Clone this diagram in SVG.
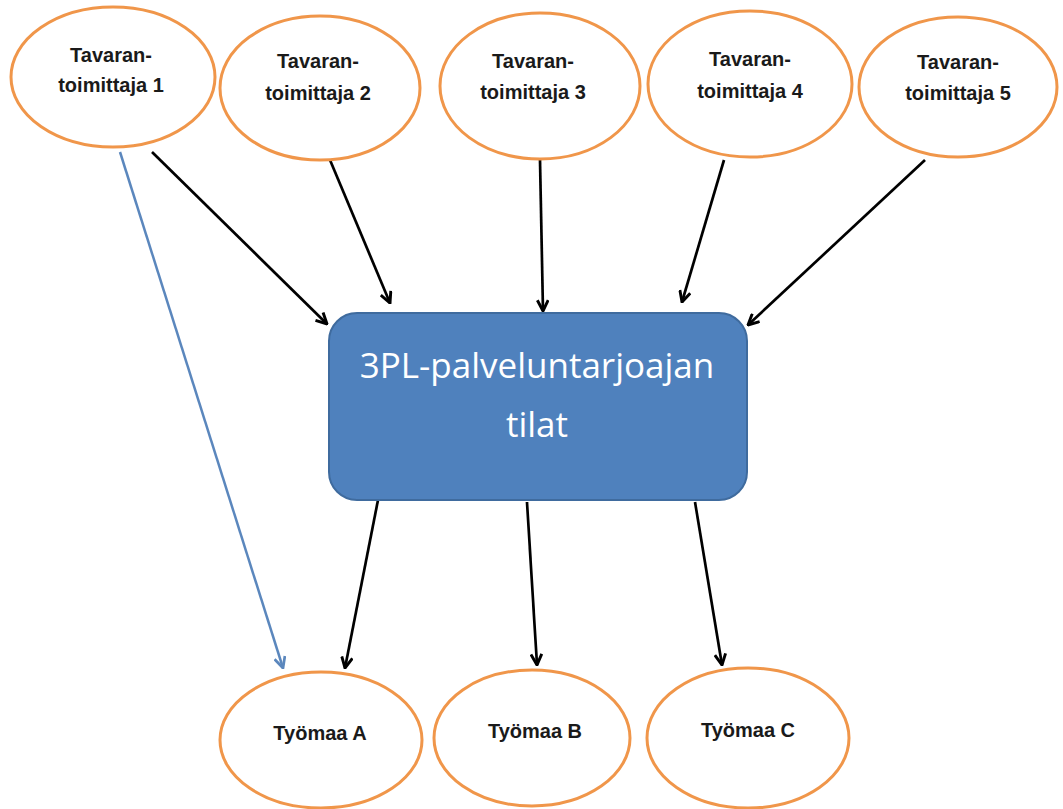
<svg xmlns="http://www.w3.org/2000/svg" width="1063" height="809" viewBox="0 0 1063 809">
<style>
.node ellipse{fill:#fff;stroke:#f0964a;stroke-width:3}
.lbl{font-family:"Liberation Sans",Arial,sans-serif;font-weight:bold;font-size:20px;fill:#1a1a1a;text-anchor:middle}
.big{font-family:"Open Sans","Liberation Sans",sans-serif;font-size:35px;fill:#fff;text-anchor:middle}
.c{fill:none;stroke:#000;stroke-width:2.7}
.cb{fill:none;stroke:#5b87bd;stroke-width:2.5}
</style>
<defs>
<marker id="ah" viewBox="0 0 12 12" refX="11" refY="6" markerWidth="13" markerHeight="13" markerUnits="userSpaceOnUse" orient="auto">
<polyline points="1,1 11,6 1,11" fill="none" stroke="#000" stroke-width="2.7"/>
</marker>
<marker id="ahb" viewBox="0 0 12 12" refX="11" refY="6" markerWidth="13" markerHeight="13" markerUnits="userSpaceOnUse" orient="auto">
<polyline points="1,1 11,6 1,11" fill="none" stroke="#5b87bd" stroke-width="2.5"/>
</marker>
</defs>
<rect width="1063" height="809" fill="#fff"/>
<g id="connectors">
<line class="c" x1="152" y1="152" x2="327" y2="324" marker-end="url(#ah)"/>
<line class="c" x1="330" y1="160" x2="390" y2="303" marker-end="url(#ah)"/>
<line class="c" x1="540" y1="160" x2="543" y2="311" marker-end="url(#ah)"/>
<line class="c" x1="724" y1="160" x2="682" y2="302" marker-end="url(#ah)"/>
<line class="c" x1="925" y1="160" x2="748" y2="325" marker-end="url(#ah)"/>
<line class="cb" x1="120" y1="152" x2="283" y2="668" marker-end="url(#ahb)"/>
<line class="c" x1="378" y1="500" x2="345" y2="668" marker-end="url(#ah)"/>
<line class="c" x1="527" y1="502" x2="537" y2="665" marker-end="url(#ah)"/>
<line class="c" x1="695" y1="502" x2="722" y2="665" marker-end="url(#ah)"/>
</g>
<g id="t1" class="node"><ellipse cx="113" cy="77" rx="102" ry="70"/><text class="lbl" x="111" y="62">Tavaran-</text><text class="lbl" x="111" y="92">toimittaja 1</text></g>
<g id="t2" class="node"><ellipse cx="320" cy="88" rx="100" ry="72"/><text class="lbl" x="318" y="68">Tavaran-</text><text class="lbl" x="318" y="100">toimittaja 2</text></g>
<g id="t3" class="node"><ellipse cx="540" cy="86" rx="100" ry="73"/><text class="lbl" x="533" y="68">Tavaran-</text><text class="lbl" x="533" y="99">toimittaja 3</text></g>
<g id="t4" class="node"><ellipse cx="750" cy="84" rx="102" ry="73"/><text class="lbl" x="750" y="66">Tavaran-</text><text class="lbl" x="750" y="98">toimittaja 4</text></g>
<g id="t5" class="node"><ellipse cx="958" cy="87" rx="99" ry="70"/><text class="lbl" x="958" y="69">Tavaran-</text><text class="lbl" x="958" y="100">toimittaja 5</text></g>
<g id="hub"><rect x="329" y="313" width="418" height="187" rx="28" fill="#4f81bd" stroke="#3f6b9e" stroke-width="2"/><text class="big" x="537" y="378">3PL-palveluntarjoajan</text><text class="big" x="537" y="437">tilat</text></g>
<g id="wa" class="node"><ellipse cx="321" cy="740" rx="101" ry="68"/><text class="lbl" x="320" y="740">Työmaa A</text></g>
<g id="wb" class="node"><ellipse cx="532" cy="738" rx="98" ry="68"/><text class="lbl" x="535" y="738">Työmaa B</text></g>
<g id="wc" class="node"><ellipse cx="748" cy="738" rx="101" ry="70"/><text class="lbl" x="748" y="737">Työmaa C</text></g>
</svg>
